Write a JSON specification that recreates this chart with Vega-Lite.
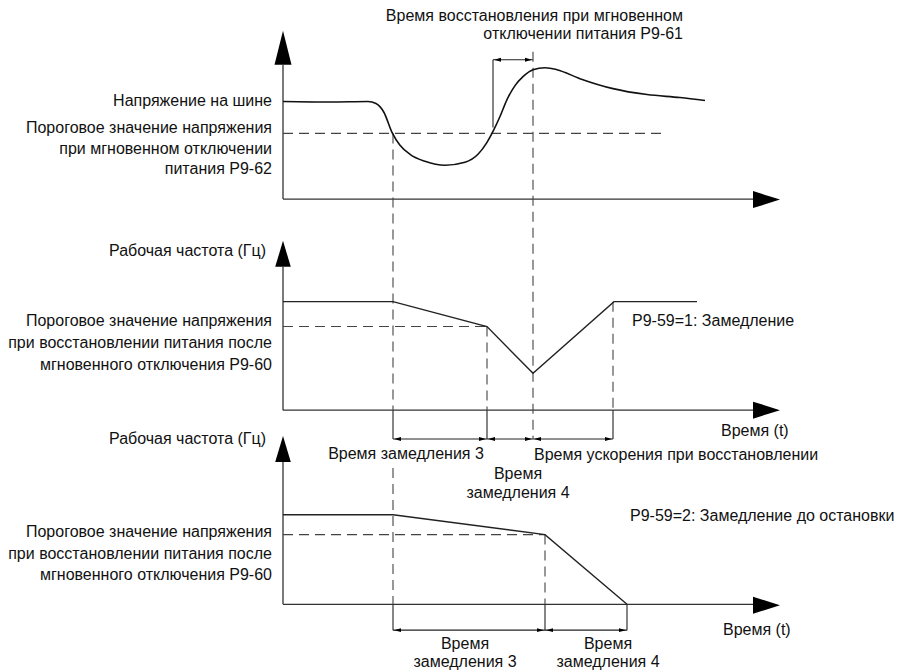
{
  "$schema": "https://vega.github.io/schema/vega-lite/v6.json",
  "width": 901,
  "height": 670,
  "autosize": {"type": "fit", "contains": "padding"},
  "padding": 0,
  "background": "white",
  "config": {"view": {"stroke": null}, "text": {"font": "Liberation Sans", "fontSize": 16, "color": "#111"}},
  "datasets": {
    "segs": [
      {"x": 283, "y": 65, "x2": 283, "y2": 200, "k": "axis"},
      {"x": 283, "y": 200, "x2": 754, "y2": 200, "k": "axis"},
      {"x": 283, "y": 268, "x2": 283, "y2": 412, "k": "axis"},
      {"x": 283, "y": 412, "x2": 754, "y2": 412, "k": "axis"},
      {"x": 283, "y": 463, "x2": 283, "y2": 607, "k": "axis"},
      {"x": 283, "y": 607, "x2": 754, "y2": 607, "k": "axis"},
      {"x": 493, "y": 60, "x2": 493, "y2": 128, "k": "solid"},
      {"x": 493, "y": 60, "x2": 533, "y2": 60, "k": "solid"},
      {"x": 393, "y": 412, "x2": 393, "y2": 441, "k": "solid"},
      {"x": 487, "y": 412, "x2": 487, "y2": 441, "k": "solid"},
      {"x": 613, "y": 412, "x2": 613, "y2": 441, "k": "solid"},
      {"x": 393, "y": 441, "x2": 613, "y2": 441, "k": "solid"},
      {"x": 393, "y": 607, "x2": 393, "y2": 633, "k": "solid"},
      {"x": 545, "y": 607, "x2": 545, "y2": 633, "k": "solid"},
      {"x": 627, "y": 607, "x2": 627, "y2": 633, "k": "solid"},
      {"x": 393, "y": 633, "x2": 627, "y2": 633, "k": "solid"},
      {"x": 283, "y": 134, "x2": 663, "y2": 134, "k": "dash"},
      {"x": 393, "y": 134, "x2": 393, "y2": 412, "k": "dash"},
      {"x": 533, "y": 52, "x2": 533, "y2": 441, "k": "dash"},
      {"x": 283, "y": 328, "x2": 487, "y2": 328, "k": "dash"},
      {"x": 487, "y": 328, "x2": 487, "y2": 412, "k": "dash"},
      {"x": 613, "y": 303, "x2": 613, "y2": 412, "k": "dash"},
      {"x": 393, "y": 470, "x2": 393, "y2": 607, "k": "dash"},
      {"x": 283, "y": 537, "x2": 545, "y2": 537, "k": "dash"},
      {"x": 545, "y": 537, "x2": 545, "y2": 607, "k": "dash"}
    ],
    "curve": [
      {"x": 283, "y": 102}, {"x": 330, "y": 102.5}, {"x": 368, "y": 102}, {"x": 376, "y": 104},
      {"x": 384, "y": 113}, {"x": 392, "y": 133}, {"x": 400, "y": 146}, {"x": 410, "y": 155},
      {"x": 425, "y": 162}, {"x": 445, "y": 166}, {"x": 465, "y": 163}, {"x": 478, "y": 155},
      {"x": 487, "y": 143}, {"x": 493, "y": 132}, {"x": 500, "y": 117}, {"x": 507, "y": 100},
      {"x": 515, "y": 86}, {"x": 523, "y": 77}, {"x": 533, "y": 70}, {"x": 545, "y": 68},
      {"x": 557, "y": 70}, {"x": 580, "y": 79}, {"x": 613, "y": 89}, {"x": 647, "y": 95},
      {"x": 680, "y": 98}, {"x": 705, "y": 101}
    ],
    "freq": [
      {"s": "a", "o": 1, "x": 283, "y": 303}, {"s": "a", "o": 2, "x": 393, "y": 303},
      {"s": "a", "o": 3, "x": 487, "y": 328}, {"s": "a", "o": 4, "x": 533, "y": 375},
      {"s": "a", "o": 5, "x": 614, "y": 303}, {"s": "a", "o": 6, "x": 697, "y": 303},
      {"s": "b", "o": 1, "x": 283, "y": 517}, {"s": "b", "o": 2, "x": 393, "y": 517},
      {"s": "b", "o": 3, "x": 545, "y": 537}, {"s": "b", "o": 4, "x": 627, "y": 607}
    ],
    "arrows": [
      {"x": 283, "y": 48, "k": "up1"},
      {"x": 283, "y": 255, "k": "up2"},
      {"x": 283, "y": 451, "k": "up2"},
      {"x": 766.5, "y": 200.5, "k": "right"},
      {"x": 766.5, "y": 412, "k": "right"},
      {"x": 766.5, "y": 608, "k": "right"},
      {"x": 497.5, "y": 60, "k": "dl"}, {"x": 528.5, "y": 60, "k": "dr"},
      {"x": 397.5, "y": 441, "k": "dl"}, {"x": 482.5, "y": 441, "k": "dr"},
      {"x": 491.5, "y": 441, "k": "dl"}, {"x": 528.5, "y": 441, "k": "dr"},
      {"x": 537.5, "y": 441, "k": "dl"}, {"x": 608.5, "y": 441, "k": "dr"},
      {"x": 397.5, "y": 633, "k": "dl"}, {"x": 540.5, "y": 633, "k": "dr"},
      {"x": 549.5, "y": 633, "k": "dl"}, {"x": 622.5, "y": 633, "k": "dr"}
    ],
    "labels": [
      {"x": 272, "y": 101, "t": "Напряжение на шине", "a": "r"},
      {"x": 272, "y": 129, "t": "Пороговое значение напряжения", "a": "r"},
      {"x": 272, "y": 150, "t": "при мгновенном отключении", "a": "r"},
      {"x": 272, "y": 170, "t": "питания P9-62", "a": "r"},
      {"x": 266, "y": 252, "t": "Рабочая частота (Гц)", "a": "r"},
      {"x": 272, "y": 322, "t": "Пороговое значение напряжения", "a": "r"},
      {"x": 272, "y": 345, "t": "при восстановлении питания после", "a": "r"},
      {"x": 272, "y": 367, "t": "мгновенного отключения P9-60", "a": "r"},
      {"x": 266, "y": 441, "t": "Рабочая частота (Гц)", "a": "r"},
      {"x": 272, "y": 534, "t": "Пороговое значение напряжения", "a": "r"},
      {"x": 272, "y": 556, "t": "при восстановлении питания после", "a": "r"},
      {"x": 272, "y": 578, "t": "мгновенного отключения P9-60", "a": "r"},
      {"x": 683, "y": 16, "t": "Время восстановления при мгновенном", "a": "r"},
      {"x": 683, "y": 34, "t": "отключении питания P9-61", "a": "r"},
      {"x": 632, "y": 322, "t": "P9-59=1: Замедление", "a": "l"},
      {"x": 721, "y": 433, "t": "Время (t)", "a": "l"},
      {"x": 534, "y": 457, "t": "Время ускорения при восстановлении", "a": "l"},
      {"x": 630, "y": 518, "t": "P9-59=2: Замедление до остановки", "a": "l"},
      {"x": 723, "y": 633, "t": "Время (t)", "a": "l"},
      {"x": 406, "y": 456, "t": "Время замедления 3", "a": "c"},
      {"x": 518, "y": 476, "t": "Время", "a": "c"},
      {"x": 518, "y": 495, "t": "замедления 4", "a": "c"},
      {"x": 465, "y": 647, "t": "Время", "a": "c"},
      {"x": 465, "y": 665, "t": "замедления 3", "a": "c"},
      {"x": 608, "y": 647, "t": "Время", "a": "c"},
      {"x": 608, "y": 665, "t": "замедления 4", "a": "c"}
    ]
  },
  "encoding": {
    "x": {"field": "x", "type": "quantitative", "scale": {"domain": [0, 901], "nice": false, "zero": false}, "axis": null},
    "y": {"field": "y", "type": "quantitative", "scale": {"domain": [0, 670], "nice": false, "zero": false, "reverse": true}, "axis": null}
  },
  "layer": [
    {
      "data": {"name": "segs"},
      "transform": [{"filter": "datum.k === 'axis'"}],
      "mark": {"type": "rule", "color": "#333", "strokeWidth": 1.3},
      "encoding": {"x2": {"field": "x2"}, "y2": {"field": "y2"}}
    },
    {
      "data": {"name": "segs"},
      "transform": [{"filter": "datum.k === 'solid'"}],
      "mark": {"type": "rule", "color": "#222", "strokeWidth": 1.1},
      "encoding": {"x2": {"field": "x2"}, "y2": {"field": "y2"}}
    },
    {
      "data": {"name": "segs"},
      "transform": [{"filter": "datum.k === 'dash'"}],
      "mark": {"type": "rule", "color": "#444", "strokeWidth": 1.1, "strokeDash": [10, 6]},
      "encoding": {"x2": {"field": "x2"}, "y2": {"field": "y2"}}
    },
    {
      "data": {"name": "curve"},
      "mark": {"type": "line", "color": "#111", "strokeWidth": 1.6, "interpolate": "monotone"},
      "encoding": {"order": {"field": "x", "type": "quantitative"}}
    },
    {
      "data": {"name": "freq"},
      "mark": {"type": "line", "color": "#222", "strokeWidth": 1.4},
      "encoding": {"detail": {"field": "s", "type": "nominal"}, "order": {"field": "o", "type": "quantitative"}}
    },
    {
      "data": {"name": "arrows"},
      "transform": [{"filter": "datum.k === 'up1'"}],
      "mark": {"type": "point", "filled": true, "color": "#000", "opacity": 1, "size": 1156, "shape": "M0,-1L-0.5,1L0.5,1Z"}
    },
    {
      "data": {"name": "arrows"},
      "transform": [{"filter": "datum.k === 'up2'"}],
      "mark": {"type": "point", "filled": true, "color": "#000", "opacity": 1, "size": 676, "shape": "M0,-1L-0.6,1L0.6,1Z"}
    },
    {
      "data": {"name": "arrows"},
      "transform": [{"filter": "datum.k === 'right'"}],
      "mark": {"type": "point", "filled": true, "color": "#000", "opacity": 1, "size": 729, "shape": "M1,0L-1,-0.63L-1,0.63Z"}
    },
    {
      "data": {"name": "arrows"},
      "transform": [{"filter": "datum.k === 'dl'"}],
      "mark": {"type": "point", "filled": true, "color": "#000", "opacity": 1, "size": 49, "shape": "M-1,0L1,-0.55L1,0.55Z"}
    },
    {
      "data": {"name": "arrows"},
      "transform": [{"filter": "datum.k === 'dr'"}],
      "mark": {"type": "point", "filled": true, "color": "#000", "opacity": 1, "size": 49, "shape": "M1,0L-1,-0.55L-1,0.55Z"}
    },
    {
      "data": {"name": "labels"},
      "transform": [{"filter": "datum.a === 'r'"}],
      "mark": {"type": "text", "align": "right", "baseline": "middle"},
      "encoding": {"text": {"field": "t"}}
    },
    {
      "data": {"name": "labels"},
      "transform": [{"filter": "datum.a === 'l'"}],
      "mark": {"type": "text", "align": "left", "baseline": "middle"},
      "encoding": {"text": {"field": "t"}}
    },
    {
      "data": {"name": "labels"},
      "transform": [{"filter": "datum.a === 'c'"}],
      "mark": {"type": "text", "align": "center", "baseline": "middle"},
      "encoding": {"text": {"field": "t"}}
    }
  ]
}
